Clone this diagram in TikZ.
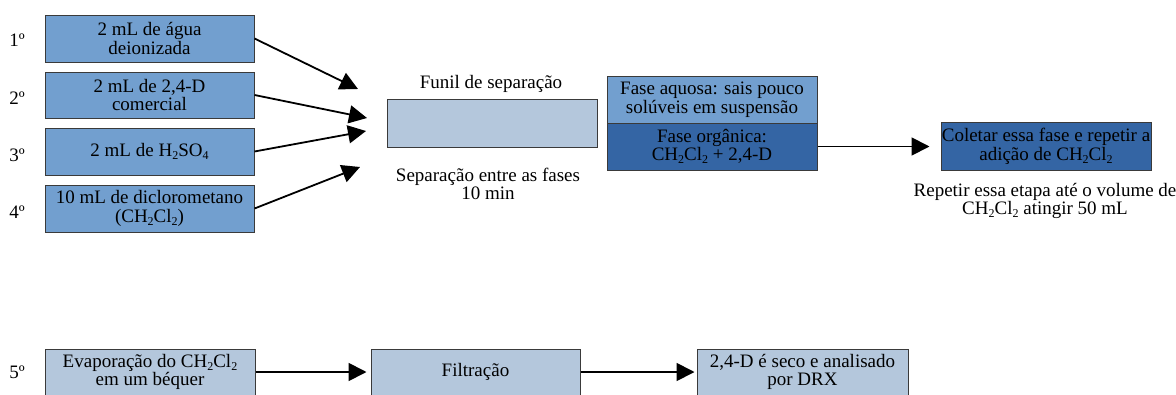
\documentclass[tikz,border=0pt]{standalone}
\usepackage{fontspec}
\setmainfont{Liberation Serif}
\usetikzlibrary{arrows.meta}
\definecolor{midblue}{HTML}{729FCF}
\definecolor{lightblue}{HTML}{B4C7DC}
\definecolor{darkblue}{HTML}{3465A4}
\definecolor{edge}{HTML}{3A3A3A}
\newcommand\sbs[1]{\raisebox{-0.35ex}{\fontsize{12}{12}\selectfont #1}}
\tikzset{
  x=1pt, y=-1pt,
  boxstyle/.style={draw=edge, line width=1pt, align=center, inner sep=0pt,
    minimum width=210pt, minimum height=47pt, font=\fontsize{19}{18.5}\selectfont},
  plaintext/.style={align=center, inner sep=0pt, font=\fontsize{19}{18.5}\selectfont},
  arr/.style={line width=1.8pt, -{Triangle[length=18pt,width=18pt]}}
}
\begin{document}
\begin{tikzpicture}
\useasboundingbox (0,0) rectangle (1176,394);
\clip (0,0) rectangle (1176,394);
% step labels
\node[plaintext] (l1) at (17,40) {1º};
\node[plaintext] (l2) at (17,98) {2º};
\node[plaintext] (l3) at (17,155) {3º};
\node[plaintext] (l4) at (17,212) {4º};
\node[plaintext] (l5) at (17,372) {5º};
% reagent boxes
\node[boxstyle, fill=midblue, minimum width=209pt] (b1) at (149.5,38.5) {2 mL de água\\deionizada};
\node[boxstyle, fill=midblue, minimum width=209pt, minimum height=46pt] (b2) at (149.5,95) {2 mL de 2,4-D\\comercial};
\node[boxstyle, fill=midblue, minimum width=209pt] (b3) at (149.5,151.5) {2 mL de H\sbs{2}SO\sbs{4}};
\node[boxstyle, fill=midblue, minimum width=209pt] (b4) at (149.5,208.5) {10 mL de diclorometano\\(CH\sbs{2}Cl\sbs{2})};
% funnel
\node[plaintext] (ft) at (491,84) {Funil de separação};
\node[boxstyle, fill=lightblue, minimum height=48pt] (fun) at (492,123) {};
\node[plaintext] (fs) at (488,184) {Separação entre as fases\\10 min};
% arrow ends
\coordinate (t1) at (358,89);
\coordinate (t2) at (367,118);
\coordinate (t3) at (366,131);
\coordinate (t4) at (360,167);
\draw[arr] (b1.east) -- (t1);
\draw[arr] (b2.east) -- (t2);
\draw[arr] (b3.east) -- (t3);
\draw[arr] (b4.east) -- (t4);
% phases
\node[boxstyle, fill=midblue] (aq) at (712,99.5) {Fase aquosa: sais pouco\\solúveis em suspensão};
\node[boxstyle, fill=darkblue] (org) at (712,146.5) {Fase orgânica:\\CH\sbs{2}Cl\sbs{2} + 2,4-D};
\node[boxstyle, fill=darkblue, minimum height=48pt] (col) at (1046,146.5) {Coletar essa fase e repetir a\\adição de CH\sbs{2}Cl\sbs{2}};
\node[plaintext] (rep) at (1045,201) {Repetir essa etapa até o volume de\\CH\sbs{2}Cl\sbs{2} atingir 50 mL};
\draw[arr, shorten >=11pt] (org.east) -- (col.west);
% bottom row
\node[boxstyle, fill=lightblue, minimum height=46pt] (ev) at (150,372) {Evaporação do CH\sbs{2}Cl\sbs{2}\\em um béquer};
\node[boxstyle, fill=lightblue, minimum width=209pt, minimum height=46pt] (fil) at (475.5,372) {Filtração};
\node[boxstyle, fill=lightblue, minimum width=211pt, minimum height=46pt] (drx) at (802.5,372) {2,4-D é seco e analisado\\por DRX};
\draw[arr, shorten >=4pt] (ev.east) -- (fil.west);
\draw[arr, shorten >=2pt] (fil.east) -- (drx.west);
\end{tikzpicture}
\end{document}
